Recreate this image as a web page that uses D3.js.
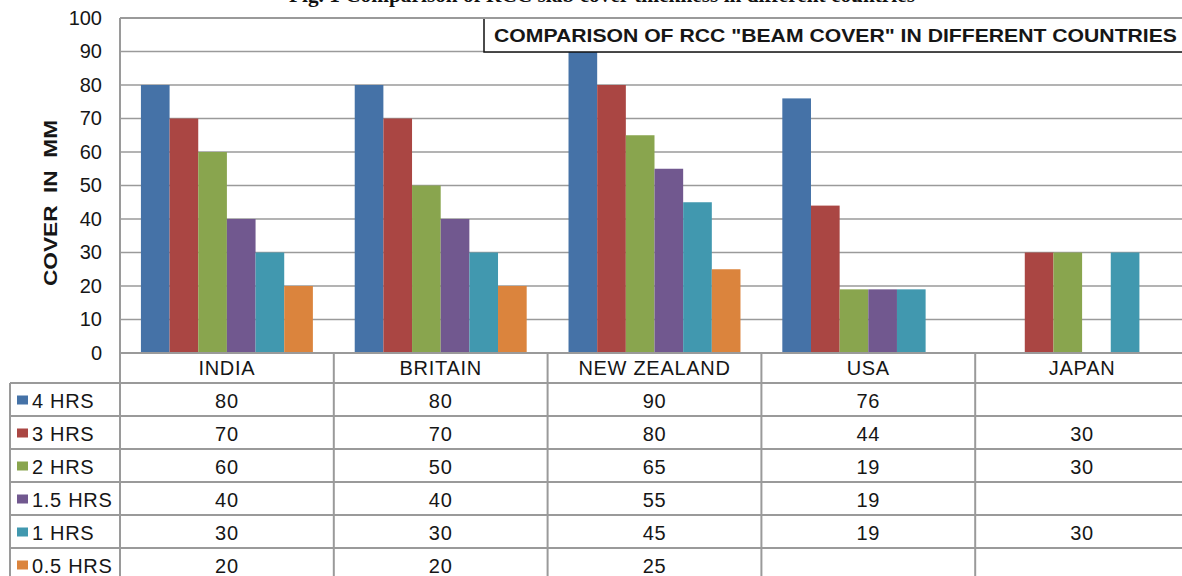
<!DOCTYPE html>
<html>
<head>
<meta charset="utf-8">
<script src="https://cdn.jsdelivr.net/npm/d3@7"></script>
<style>
  html, body { margin: 0; padding: 0; background: #fff; }
  svg { display: block; }
  text { font-family: "Liberation Sans", Arial, sans-serif; }
</style>
</head>
<body>
<svg id="chart" width="1182" height="576"></svg>
<script>
// Concrete cover to beam reinforcement (mm) for each fire rating, by country
const countries = ["INDIA", "BRITAIN", "NEW ZEALAND", "USA", "JAPAN"];
const seriesNames = ["4 HRS", "3 HRS", "2 HRS", "1.5 HRS", "1 HRS", "0.5 HRS"];
const hrs4  = [80, 80, 90, 76, null];
const hrs3  = [70, 70, 80, 44, 30];
const hrs2  = [60, 50, 65, 19, 30];
const hrs15 = [40, 40, 55, 19, null];
const hrs1  = [30, 30, 45, 19, 30];
const hrs05 = [20, 20, 25, null, null];
const yTicks = [0, 10, 20, 30, 40, 50, 60, 70, 80, 90, 100];
const colors = ["#4572A7", "#AA4643", "#89A54E", "#71588F", "#4198AF", "#DB843D"];

const seriesValues = [hrs4, hrs3, hrs2, hrs15, hrs1, hrs05];

const svg = d3.select("#chart");
const W = 1182, H = 576;
const gridColor = "#9a9a9a";
const textColor = "#161616";
const fs = "20px";
const ls = "0.7px";

// plot geometry
const plotLeft = 120, plotTop = 18, plotBottom = 353;
const catW = 213.8;
const plotRight = plotLeft + catW * countries.length;
const tableLeft = 10, headerBottom = 383, rowH = 33;

const x = d3.scaleBand().domain(countries).range([plotLeft, plotRight]).paddingInner(0).paddingOuter(0);
const xs = d3.scaleBand().domain(seriesNames).range([0, x.bandwidth()]).paddingOuter(0.73).paddingInner(0);
const y = d3.scaleLinear().domain([0, 100]).range([plotBottom, plotTop]);

// caption above the chart (runs off the top edge)
svg.append("text")
  .attr("x", 289).attr("y", 2)
  .style("font-family", "'Liberation Serif', 'Times New Roman', serif")
  .style("font-weight", "bold").style("font-size", "21px").attr("fill", "#111")
  .attr("textLength", 626).attr("lengthAdjust", "spacingAndGlyphs")
  .text("Fig. 1 Comparison of RCC slab cover thickness in different countries");

// horizontal gridlines
svg.append("g").selectAll("line").data(yTicks.filter(d => d > 0)).join("line")
  .attr("x1", plotLeft).attr("x2", W)
  .attr("y1", d => y(d)).attr("y2", d => y(d))
  .attr("stroke", gridColor).attr("stroke-width", 1.5);

// bars
const groups = svg.append("g").selectAll("g").data(seriesValues).join("g")
  .attr("fill", (d, i) => colors[i]);
groups.each(function(vals, si) {
  d3.select(this).selectAll("rect")
    .data(vals.map((v, ci) => ({ v, c: countries[ci] })).filter(d => d.v != null))
    .join("rect")
    .attr("x", d => x(d.c) + xs(seriesNames[si]))
    .attr("width", xs.bandwidth())
    .attr("y", d => y(d.v))
    .attr("height", d => y(0) - y(d.v));
});

// y axis
const yAxis = d3.axisLeft(y).tickValues(yTicks).tickSize(0).tickPadding(18);
const ga = svg.append("g").attr("transform", `translate(${plotLeft},0)`).call(yAxis);
ga.select(".domain").remove();
ga.selectAll(".tick line").remove();
ga.selectAll(".tick text")
  .style("font-size", fs).attr("fill", textColor)
  .style("font-family", "'Liberation Sans', Arial, sans-serif");

// axis title
svg.append("text")
  .attr("transform", `translate(57,203) rotate(-90)`)
  .attr("text-anchor", "middle")
  .style("white-space", "pre")
  .style("font-weight", "bold").style("font-size", "19px").attr("fill", textColor)
  .attr("textLength", 166).attr("lengthAdjust", "spacingAndGlyphs")
  .text("COVER  IN  MM");

// chart title box
const tb = svg.append("g");
tb.append("rect").attr("x", 484).attr("y", 18).attr("width", 720).attr("height", 34)
  .attr("fill", "#fff").attr("stroke", "#111").attr("stroke-width", 1.5);
tb.append("text").attr("x", 494).attr("y", 42)
  .style("font-weight", "bold").style("font-size", "19px").attr("fill", textColor)
  .attr("textLength", 683).attr("lengthAdjust", "spacingAndGlyphs")
  .text('COMPARISON OF RCC "BEAM COVER" IN DIFFERENT COUNTRIES');

// data table
const tbl = svg.append("g");
// vertical lines
tbl.append("line").attr("x1", plotLeft).attr("x2", plotLeft).attr("y1", plotTop).attr("y2", H)
  .attr("stroke", gridColor).attr("stroke-width", 2);
tbl.append("line").attr("x1", tableLeft).attr("x2", tableLeft).attr("y1", headerBottom).attr("y2", H)
  .attr("stroke", gridColor).attr("stroke-width", 2);
tbl.selectAll(".vsep").data(countries.slice(1)).join("line").attr("class", "vsep")
  .attr("x1", d => x(d)).attr("x2", d => x(d)).attr("y1", plotBottom).attr("y2", H)
  .attr("stroke", gridColor).attr("stroke-width", 2);
// top border of plot and category axis line
tbl.append("line").attr("x1", plotLeft).attr("x2", W).attr("y1", plotTop).attr("y2", plotTop)
  .attr("stroke", gridColor).attr("stroke-width", 2);
tbl.append("line").attr("x1", plotLeft).attr("x2", W).attr("y1", plotBottom).attr("y2", plotBottom)
  .attr("stroke", gridColor).attr("stroke-width", 2);
// horizontal row lines
tbl.selectAll(".hsep").data(d3.range(seriesNames.length + 1)).join("line").attr("class", "hsep")
  .attr("x1", tableLeft).attr("x2", W)
  .attr("y1", i => headerBottom + i * rowH).attr("y2", i => headerBottom + i * rowH)
  .attr("stroke", gridColor).attr("stroke-width", 2);

// header labels
tbl.selectAll(".hdr").data(countries).join("text").attr("class", "hdr")
  .attr("x", d => x(d) + x.bandwidth() / 2).attr("y", plotBottom + 22)
  .attr("text-anchor", "middle").style("font-size", fs).style("letter-spacing", ls)
  .attr("fill", textColor)
  .text(d => d);

// legend keys and values
seriesNames.forEach((name, si) => {
  const cy = headerBottom + si * rowH + rowH / 2;
  tbl.append("rect").attr("x", 17).attr("y", cy - 4).attr("width", 11).attr("height", 9)
    .attr("fill", colors[si]);
  tbl.append("text").attr("x", 32).attr("y", cy + 8)
    .style("font-size", fs).style("letter-spacing", ls)
    .attr("fill", textColor).text(name);
  seriesValues[si].forEach((v, ci) => {
    if (v == null) return;
    tbl.append("text")
      .attr("x", x(countries[ci]) + x.bandwidth() / 2).attr("y", cy + 8)
      .attr("text-anchor", "middle").style("font-size", fs).style("letter-spacing", ls)
      .attr("fill", textColor)
      .text(v);
  });
});
</script>
</body>
</html>
